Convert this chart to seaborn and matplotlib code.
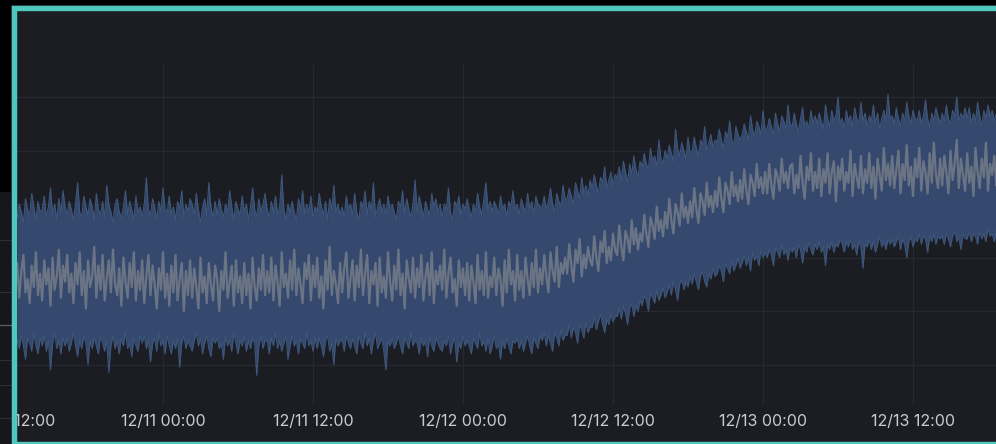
import matplotlib
matplotlib.use("Agg")
import matplotlib.pyplot as plt
import matplotlib.dates as mdates
from matplotlib.patches import Rectangle
from matplotlib.lines import Line2D
import pandas as pd
import seaborn as sns

# ---- data: 10-minute samples (band upper / band lower / mean) ----
start_time = "2023-12-10 12:20"
step = "10min"

upper = [
    75, 80, 77, 73, 82, 78, 76, 84, 79, 74, 81, 77,
    78, 83, 75, 79, 86, 76, 80, 74, 82, 77, 85, 79,
    76, 81, 78, 74, 80, 88, 77, 75, 83, 79, 76, 82,
    79, 74, 84, 78, 76, 81, 75, 87, 80, 77, 73, 80,
    82, 77, 75, 79, 85, 76, 81, 78, 74, 83, 77, 79,
    75, 80, 90, 78, 76, 82, 79, 74, 81, 77, 86, 78,
    77, 83, 76, 79, 74, 81, 78, 85, 75, 80, 77, 82,
    80, 76, 84, 78, 73, 79, 82, 76, 88, 79, 75, 81,
    76, 82, 78, 75, 80, 77, 85, 79, 74, 81, 78, 76,
    83, 77, 80, 74, 79, 86, 78, 75, 82, 77, 80, 84,
    78, 75, 81, 77, 83, 76, 79, 91, 78, 74, 80, 77,
    81, 77, 74, 82, 78, 85, 76, 80, 77, 83, 75, 79,
    77, 84, 79, 76, 81, 74, 82, 78, 87, 77, 80, 76,
    79, 75, 83, 78, 80, 76, 84, 77, 74, 81, 79, 85,
    76, 81, 78, 88, 75, 79, 82, 77, 80, 76, 83, 78,
    80, 77, 74, 81, 79, 85, 76, 82, 78, 75, 80, 89,
    77, 83, 79, 75, 81, 78, 76, 84, 79, 82, 77, 80,
    75, 80, 78, 86, 77, 74, 81, 79, 83, 76, 80, 78,
    82, 78, 75, 80, 77, 84, 79, 76, 82, 88, 78, 81,
    77, 81, 79, 76, 83, 78, 80, 75, 81, 79, 85, 78,
    80, 76, 82, 79, 77, 84, 78, 81, 76, 83, 80, 79,
    79, 83, 78, 81, 86, 80, 77, 84, 81, 79, 87, 82,
    82, 86, 83, 80, 88, 85, 82, 90, 84, 87, 83, 89,
    86, 91, 87, 84, 90, 88, 94, 86, 89, 92, 87, 91,
    90, 94, 89, 96, 92, 88, 95, 91, 98, 93, 90, 96,
    94, 99, 95, 93, 101, 96, 98, 94, 104, 97, 95, 100,
    97, 102, 99, 96, 108, 101, 98, 103, 100, 97, 105, 99,
    100, 105, 101, 98, 104, 102, 109, 100, 103, 106, 101, 104,
    103, 108, 104, 101, 107, 105, 111, 104, 102, 109, 106, 104,
    106, 110, 107, 104, 113, 108, 105, 111, 109, 106, 115, 108,
    108, 112, 109, 106, 114, 110, 107, 113, 111, 108, 117, 110,
    109, 114, 110, 107, 112, 116, 109, 111, 108, 115, 110, 113,
    110, 114, 111, 108, 117, 112, 109, 115, 111, 113, 120, 110,
    112, 108, 115, 111, 113, 109, 116, 112, 110, 118, 111, 114,
    109, 113, 111, 117, 110, 114, 108, 112, 115, 111, 121, 112,
    113, 110, 116, 112, 109, 114, 111, 118, 113, 110, 115, 112,
    111, 115, 110, 113, 119, 112, 109, 114, 111, 116, 113, 110,
    114, 111, 117, 112, 110, 115, 113, 120, 111, 114, 112, 116,
    112, 116, 110, 114, 111, 118, 113, 109, 115, 112, 117, 113,
    115, 111, 114, 118,
]

lower = [
    29, 26, 31, 27, 22, 30, 28, 25, 32, 27, 24, 30,
    27, 31, 25, 29, 18, 28, 32, 26, 29, 24, 30, 27,
    30, 25, 28, 32, 27, 23, 29, 26, 31, 28, 20, 29,
    26, 30, 27, 24, 31, 28, 25, 29, 17, 27, 31, 26,
    29, 24, 30, 27, 32, 26, 28, 23, 30, 27, 25, 31,
    28, 31, 26, 29, 21, 28, 30, 25, 32, 27, 29, 24,
    31, 27, 24, 29, 26, 30, 19, 28, 31, 26, 29, 27,
    25, 29, 32, 27, 30, 24, 28, 31, 26, 23, 30, 28,
    30, 26, 28, 22, 31, 27, 29, 25, 32, 28, 24, 29,
    27, 31, 25, 29, 26, 30, 28, 16, 27, 31, 26, 29,
    29, 24, 30, 27, 32, 26, 29, 25, 28, 31, 22, 27,
    31, 27, 29, 24, 30, 28, 26, 32, 27, 29, 25, 30,
    26, 30, 27, 23, 29, 31, 25, 28, 20, 30, 27, 29,
    29, 25, 31, 28, 26, 30, 27, 24, 31, 28, 26, 32,
    27, 30, 24, 29, 32, 26, 28, 30, 25, 18, 29, 27,
    30, 26, 28, 31, 27, 24, 30, 28, 26, 32, 27, 29,
    28, 24, 30, 27, 29, 23, 31, 27, 25, 30, 28, 26,
    25, 29, 27, 31, 24, 28, 30, 21, 28, 26, 31, 27,
    29, 27, 24, 30, 28, 26, 32, 27, 29, 25, 30, 24,
    27, 31, 26, 28, 22, 29, 26, 30, 27, 24, 29, 28,
    30, 26, 29, 25, 28, 31, 27, 24, 30, 28, 26, 31,
    29, 32, 27, 31, 28, 25, 32, 30, 27, 33, 29, 31,
    31, 35, 30, 34, 32, 28, 35, 33, 30, 36, 32, 34,
    34, 38, 33, 36, 39, 35, 32, 37, 35, 39, 36, 38,
    38, 41, 37, 42, 39, 35, 41, 43, 38, 42, 40, 44,
    42, 46, 44, 40, 47, 45, 43, 48, 44, 46, 49, 45,
    47, 50, 46, 51, 48, 44, 50, 52, 48, 51, 49, 53,
    50, 54, 51, 48, 53, 55, 51, 49, 54, 52, 56, 53,
    54, 57, 55, 51, 58, 56, 54, 59, 55, 57, 60, 56,
    58, 61, 57, 60, 55, 62, 59, 61, 57, 63, 60, 62,
    60, 63, 61, 57, 64, 62, 60, 65, 61, 63, 59, 64,
    62, 64, 60, 65, 63, 58, 64, 62, 66, 63, 61, 65,
    63, 66, 62, 64, 57, 65, 63, 66, 62, 65, 64, 67,
    65, 62, 66, 64, 67, 63, 65, 61, 66, 64, 56, 65,
    64, 67, 63, 66, 62, 65, 68, 64, 66, 63, 67, 65,
    67, 64, 66, 68, 63, 67, 65, 60, 66, 68, 64, 67,
    66, 69, 65, 68, 67, 62, 68, 66, 69, 65, 68, 67,
    68, 65, 69, 67, 64, 68, 70, 66, 68, 63, 69, 67,
    67, 70, 66, 69, 68, 65, 70, 67, 69, 66, 71, 68,
    69, 66, 70, 68,
]

mean = [
    58, 45, 55, 61, 47, 52, 43, 57, 49, 62, 46, 54,
    44, 59, 50, 56, 42, 60, 48, 53, 63, 45, 57, 51,
    61, 47, 54, 43, 58, 50, 62, 46, 55, 41, 59, 49,
    53, 64, 45, 57, 48, 61, 44, 52, 59, 47, 63, 50,
    46, 56, 42, 60, 51, 45, 58, 49, 62, 44, 55, 48,
    59, 43, 53, 61, 46, 57, 50, 41, 56, 48, 62, 45,
    54, 42, 57, 47, 61, 44, 52, 58, 40, 55, 46, 59,
    45, 56, 49, 41, 60, 47, 53, 43, 58, 50, 44, 57,
    52, 40, 55, 48, 62, 45, 51, 57, 42, 59, 47, 53,
    43, 58, 46, 54, 41, 60, 49, 44, 56, 48, 61, 46,
    55, 47, 60, 44, 57, 51, 42, 62, 49, 54, 45, 59,
    48, 63, 46, 56, 50, 43, 58, 52, 61, 44, 57, 49,
    60, 45, 53, 41, 59, 48, 64, 46, 55, 50, 43, 58,
    47, 56, 62, 45, 52, 59, 44, 57, 49, 63, 46, 54,
    61, 43, 55, 50, 58, 42, 60, 47, 53, 45, 62, 51,
    44, 57, 48, 63, 46, 54, 41, 59, 52, 47, 60, 45,
    56, 49, 61, 44, 53, 58, 46, 62, 43, 55, 50, 57,
    48, 63, 45, 54, 60, 47, 52, 42, 59, 49, 56, 46,
    58, 44, 57, 51, 43, 61, 48, 55, 46, 62, 45, 53,
    49, 60, 46, 56, 52, 42, 59, 47, 63, 50, 55, 44,
    61, 48, 55, 45, 60, 52, 46, 58, 49, 63, 47, 56,
    50, 61, 53, 47, 62, 55, 51, 64, 49, 58, 54, 60,
    54, 65, 57, 51, 63, 58, 67, 53, 61, 56, 64, 59,
    57, 68, 60, 55, 66, 62, 70, 58, 64, 59, 69, 63,
    61, 72, 64, 59, 70, 67, 62, 74, 65, 71, 63, 69,
    66, 76, 69, 64, 75, 72, 67, 79, 70, 74, 68, 77,
    71, 82, 74, 69, 80, 77, 72, 84, 75, 79, 73, 81,
    75, 86, 78, 73, 84, 81, 76, 88, 79, 83, 77, 85,
    79, 90, 82, 77, 88, 85, 80, 92, 83, 87, 81, 89,
    82, 93, 85, 80, 91, 88, 83, 95, 86, 90, 84, 92,
    84, 95, 87, 82, 93, 90, 85, 97, 88, 92, 86, 94,
    95, 84, 91, 86, 98, 88, 82, 94, 89, 99, 85, 92,
    86, 97, 83, 93, 88, 99, 84, 92, 96, 81, 94, 89,
    97, 85, 92, 88, 100, 83, 95, 90, 86, 98, 84, 93,
    88, 99, 86, 94, 82, 97, 91, 85, 101, 89, 95, 87,
    98, 86, 93, 100, 84, 95, 89, 102, 87, 94, 83, 97,
    90, 101, 85, 96, 92, 84, 99, 88, 103, 91, 86, 97,
    87, 98, 92, 84, 100, 89, 95, 104, 86, 97, 91, 85,
    99, 88, 94, 83, 101, 92, 86, 97, 90, 103, 85, 95,
    91, 98, 87, 96,
]

grid_values = [20, 40, 60, 80, 100, 120]

times = pd.date_range(start_time, periods=len(mean), freq=step)
df = pd.DataFrame({"time": times, "upper": upper, "lower": lower, "mean": mean})

# ---- style ----
PANEL = "#1b1d22"
GRID = "#262930"
BAND = "#34496d"
BAND_EDGE = "#3e567b"
MEAN = "#80858e"
TEAL = "#4fc6be"
TEXT = "#c9cbce"

sns.set_theme(style="dark")
plt.rcParams["font.family"] = ["Inter", "DejaVu Sans"]

W, H = 996, 444
fig = plt.figure(figsize=(W / 100, H / 100), dpi=100, facecolor=PANEL)


def fx(px):
    return px / W


def fy(py):
    return 1 - py / H


ax_top, ax_bottom = 65, 405
ax = fig.add_axes([0, fy(ax_bottom), 1, (ax_bottom - ax_top) / H])
ax.set_facecolor(PANEL)
ax.set_axisbelow(True)

ax.fill_between(df["time"], df["lower"], df["upper"], color=BAND, lw=0, zorder=2)
sns.lineplot(data=df, x="time", y="upper", ax=ax, color=BAND_EDGE, lw=0.8, zorder=3)
sns.lineplot(data=df, x="time", y="lower", ax=ax, color=BAND_EDGE, lw=0.8, zorder=3)
sns.lineplot(data=df, x="time", y="mean", ax=ax, color=MEAN, lw=1.6, alpha=0.72, zorder=4)

# x range: 12.5 px per hour, 12/10 12:00 sits at x = 13 px
t_ref = pd.Timestamp("2023-12-10 12:00")
ax.set_xlim(t_ref - pd.Timedelta(hours=13 / 12.5), t_ref + pd.Timedelta(hours=(W - 13) / 12.5))
ax.set_ylim(4.9, 132.0)

ax.xaxis.set_major_locator(mdates.HourLocator(byhour=[0, 12]))
ax.xaxis.set_major_formatter(mdates.DateFormatter("%m/%d %H:%M"))
ax.set_yticks(grid_values)
ax.set_yticklabels([])
ax.set_xlabel("")
ax.set_ylabel("")
ax.tick_params(axis="x", length=0, pad=6.5, labelsize=11.5, labelcolor=TEXT)
ax.tick_params(axis="y", length=0)
ax.grid(True, color=GRID, lw=0.9)
for s in ax.spines.values():
    s.set_visible(False)

# ---- frame around the panel ----
fig.add_artist(Rectangle((0, 0), fx(11), 1, transform=fig.transFigure,
                         facecolor="#000000", edgecolor="none", zorder=10))
fig.add_artist(Rectangle((0, fy(5)), 1, 5 / H, transform=fig.transFigure,
                         facecolor="#000000", edgecolor="none", zorder=10))
fig.add_artist(Rectangle((0, 0), fx(11), fy(192), transform=fig.transFigure,
                         facecolor="#15171b", edgecolor="none", zorder=11))
for yy in [240, 292, 360, 385, 418]:
    fig.add_artist(Line2D([0, fx(11)], [fy(yy), fy(yy)], transform=fig.transFigure,
                          color="#2c2e33", lw=0.8, zorder=12))
fig.add_artist(Line2D([0, fx(11)], [fy(325), fy(325)], transform=fig.transFigure,
                      color="#5c5f65", lw=0.9, zorder=12))
fig.add_artist(Rectangle((fx(13.5), fy(443.5)), fx(1010) - fx(13.5), fy(8) - fy(443.5),
                         transform=fig.transFigure, facecolor="none", edgecolor=TEAL,
                         lw=3.9, zorder=13))

fig.savefig("out.png", dpi=100, facecolor=PANEL)
